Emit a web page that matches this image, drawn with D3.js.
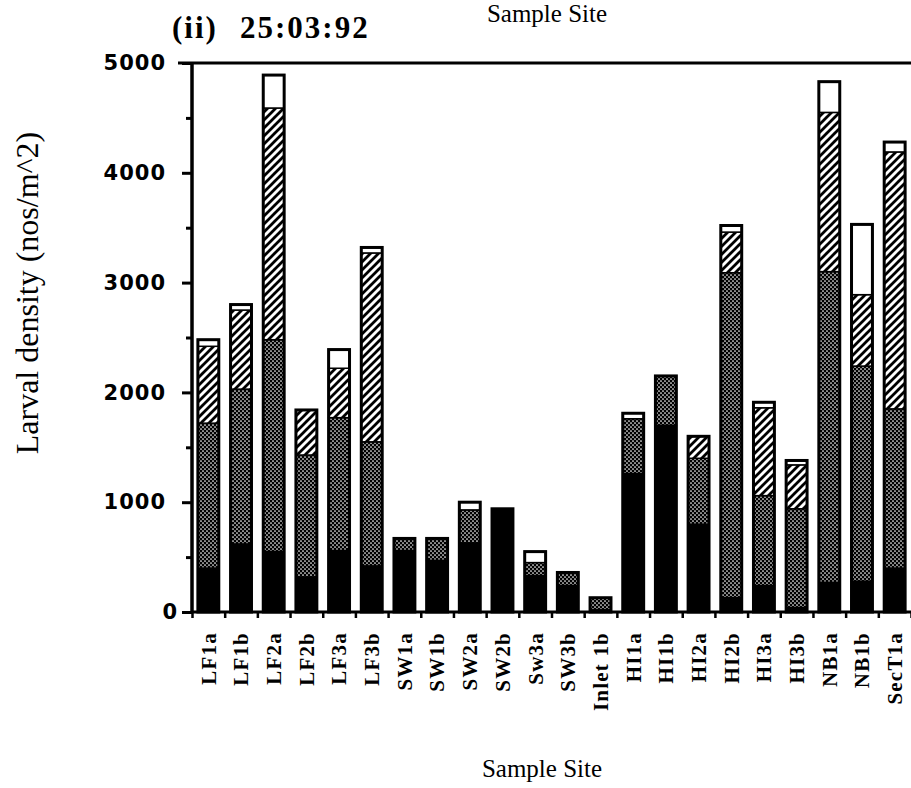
<!DOCTYPE html>
<html>
<head>
<meta charset="utf-8">
<script src="https://cdn.jsdelivr.net/npm/d3@7/dist/d3.min.js"></script>
<style>
  html, body { margin: 0; padding: 0; background: #fff; }
  svg { display: block; }
</style>
</head>
<body>
<svg id="chart" width="911" height="788"></svg>
<script>
// ---- data ----
const sites = ["LF1a","LF1b","LF2a","LF2b","LF3a","LF3b","SW1a","SW1b","SW2a","SW2b","Sw3a","SW3b","Inlet 1b","HI1a","HI1b","HI2a","HI2b","HI3a","HI3b","NB1a","NB1b","SecT1a"];
const blackVals   = [400, 620, 550, 320, 560, 420, 560, 470, 630, 940, 330, 240,  20, 1260, 1700, 800,  130, 240,  40,  270,  280,  400];
const stippleVals = [1320,1410,1930,1110,1210,1130, 110, 200, 300,   0, 120, 120, 110,  500,  450, 600, 2960, 820, 900, 2830, 1960, 1450];
const hatchVals   = [700, 720, 2110, 410, 450, 1720,   0,   0,   0,   0,   0,   0,   0,    0,    0, 200,  370, 800, 400, 1450,  650, 2340];
const whiteVals   = [60,   50,  300,   0, 170,   50,   0,   0,  70,   0, 100,   0,   0,   50,    0,   0,   60,  50,  40,  280,  640,   90];
const yMajorTicks = [0, 1000, 2000, 3000, 4000, 5000];
const yMinorTicks = [500, 1500, 2500, 3500, 4500];
const keys = ["black", "stipple", "hatch", "white"];

const rows = sites.map((s, i) => ({
  site: s, black: blackVals[i], stipple: stippleVals[i], hatch: hatchVals[i], white: whiteVals[i]
}));

const svg = d3.select("#chart");
const defs = svg.append("defs");

// stipple pattern: black ground with white dots
const st = defs.append("pattern").attr("id", "stipple").attr("patternUnits", "userSpaceOnUse")
  .attr("width", 4).attr("height", 4);
st.append("rect").attr("width", 4).attr("height", 4).attr("fill", "#000");
st.append("circle").attr("cx", 1).attr("cy", 1).attr("r", 0.85).attr("fill", "#fff");
st.append("circle").attr("cx", 3).attr("cy", 3).attr("r", 0.85).attr("fill", "#fff");

// hatch pattern: "/" diagonal lines
const ht = defs.append("pattern").attr("id", "hatch").attr("patternUnits", "userSpaceOnUse")
  .attr("width", 8).attr("height", 8);
ht.append("rect").attr("width", 8).attr("height", 8).attr("fill", "#fff");
ht.append("path").attr("d", "M-2,2 L2,-2 M0,8 L8,0 M6,10 L10,6")
  .attr("stroke", "#000").attr("stroke-width", 2.8).attr("stroke-linecap", "square");

const fills = { black: "#000", stipple: "url(#stipple)", hatch: "url(#hatch)", white: "#fff" };

const x0 = 192, x1 = 911, yBase = 612, yTop = 63;
const x = d3.scaleBand().domain(sites).range([x0, x1]).paddingInner(0.36).paddingOuter(0.18);
const xEdge = d3.scaleLinear().domain([0, sites.length]).range([x0, x1]);
const y = d3.scaleLinear().domain([0, 5000]).range([yBase, yTop]);

const stack = d3.stack().keys(keys)(rows);

// bars
const layer = svg.append("g");
stack.forEach(series => {
  layer.append("g").selectAll("rect")
    .data(series.filter(d => d[1] > d[0]))
    .join("rect")
    .attr("x", d => x(d.data.site))
    .attr("width", x.bandwidth())
    .attr("y", d => y(d[1]))
    .attr("height", d => y(d[0]) - y(d[1]))
    .attr("fill", fills[series.key])
    .attr("stroke", "#000")
    .attr("stroke-width", 1.5);
});
// bar outlines
layer.append("g").selectAll("rect")
  .data(rows)
  .join("rect")
  .attr("x", d => x(d.site))
  .attr("width", x.bandwidth())
  .attr("y", d => y(d.black + d.stipple + d.hatch + d.white))
  .attr("height", d => yBase - y(d.black + d.stipple + d.hatch + d.white))
  .attr("fill", "none")
  .attr("stroke", "#000")
  .attr("stroke-width", 3);

// top frame line
svg.append("line").attr("x1", 178).attr("x2", 911).attr("y1", yTop).attr("y2", yTop)
  .attr("stroke", "#000").attr("stroke-width", 3);

// y axis (major)
const yAxis = svg.append("g").attr("transform", `translate(${x0},0)`)
  .call(d3.axisLeft(y).tickValues(yMajorTicks).tickSize(10).tickPadding(16).tickFormat(d3.format("d")));
yAxis.select(".domain").attr("stroke-width", 3.5).attr("d", `M0,${yTop}V${yBase + 1}`);
yAxis.selectAll(".tick line").attr("stroke-width", 3);
yAxis.selectAll(".tick text")
  .attr("font-family", "'DejaVu Sans', sans-serif")
  .attr("font-weight", "bold")
  .attr("font-size", 21)
  .attr("letter-spacing", 1)
  .attr("fill", "#000");
yAxis.selectAll(".tick").filter(d => d === 0).select("text").attr("x", -14);

// y axis (minor)
const yMinor = svg.append("g").attr("transform", `translate(${x0},0)`)
  .call(d3.axisLeft(y).tickValues(yMinorTicks).tickSize(6).tickFormat(""));
yMinor.select(".domain").remove();
yMinor.selectAll(".tick line").attr("stroke-width", 3);

// x axis baseline + boundary ticks
const xTicks = svg.append("g").attr("transform", `translate(0,${yBase})`)
  .call(d3.axisBottom(xEdge).tickValues(d3.range(0, sites.length + 1)).tickSize(6).tickFormat(""));
xTicks.select(".domain").attr("stroke-width", 3).attr("d", `M${x0},0H${x1}`);
xTicks.selectAll(".tick line").attr("stroke-width", 2.5);

// x category labels
const xLab = svg.append("g").attr("transform", `translate(0,${yBase})`)
  .call(d3.axisBottom(x).tickSize(0).tickPadding(0));
xLab.select(".domain").remove();
xLab.selectAll(".tick text")
  .attr("transform", "rotate(-90)")
  .attr("text-anchor", "end")
  .attr("x", -20)
  .attr("y", 0)
  .attr("dy", "0.35em")
  .attr("font-family", "'Liberation Serif', 'Times New Roman', serif")
  .attr("font-weight", "bold")
  .attr("font-size", 21)
  .attr("letter-spacing", 1.2)
  .attr("fill", "#000");

// titles
const serif = "'Liberation Serif', 'Times New Roman', serif";
svg.append("text").attr("x", 172).attr("y", 38).text("(ii)")
  .attr("font-family", serif).attr("font-weight", "bold").attr("font-size", 31).attr("letter-spacing", 2);
svg.append("text").attr("x", 240).attr("y", 38).text("25:03:92")
  .attr("font-family", serif).attr("font-weight", "bold").attr("font-size", 31).attr("letter-spacing", 2);
svg.append("text").attr("x", 547).attr("y", 22).attr("text-anchor", "middle").text("Sample Site")
  .attr("font-family", serif).attr("font-size", 25);
svg.append("text").attr("x", 542).attr("y", 777).attr("text-anchor", "middle").text("Sample Site")
  .attr("font-family", serif).attr("font-size", 25);
svg.append("text").attr("transform", "translate(38,293) rotate(-90)").attr("text-anchor", "middle")
  .text("Larval density (nos/m^2)")
  .attr("font-family", serif).attr("font-size", 32);
</script>
</body>
</html>
